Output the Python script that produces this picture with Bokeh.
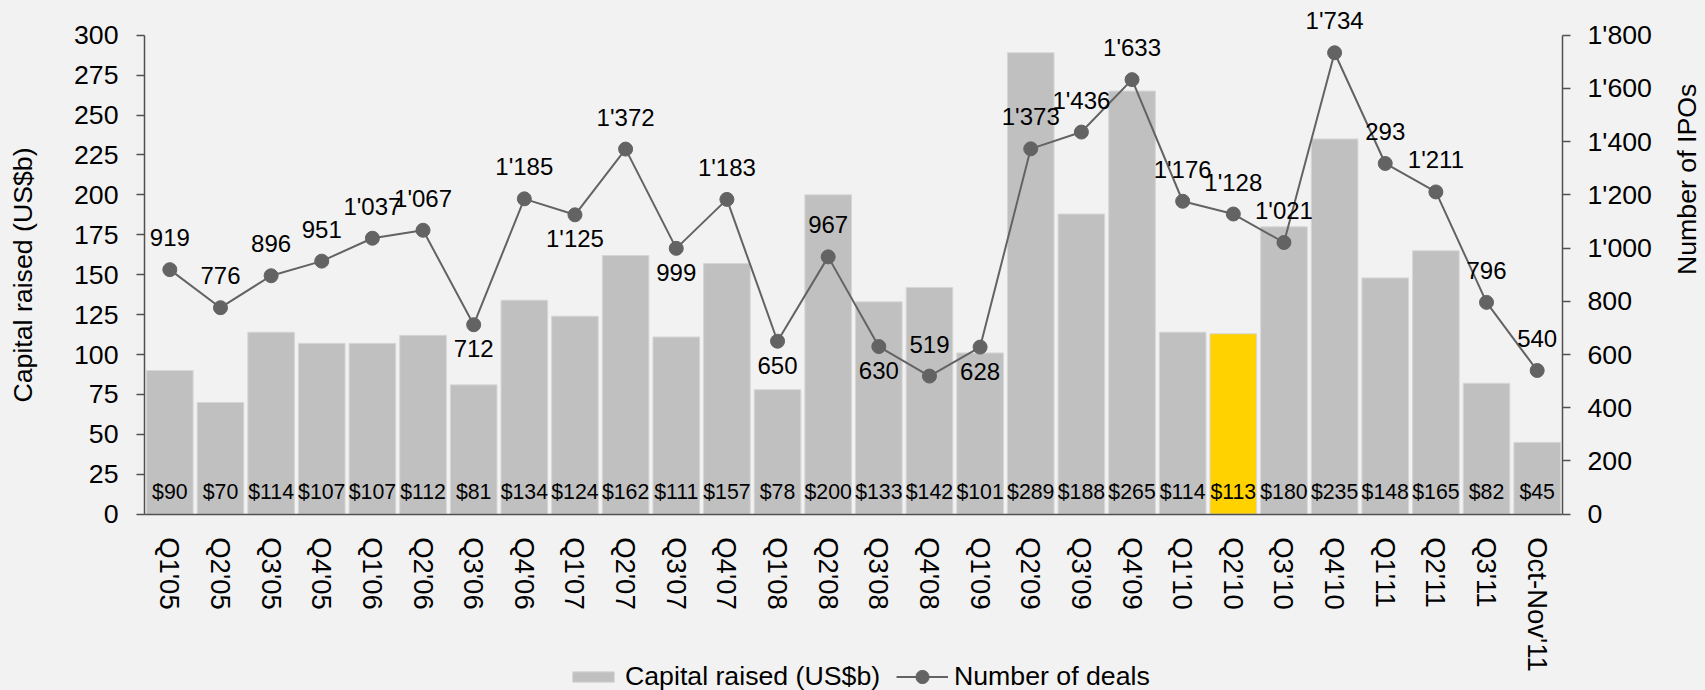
import math
from bokeh.plotting import figure
from bokeh.models import (ColumnDataSource, Range1d, LinearAxis, FixedTicker, LabelSet,
                          Legend, LegendItem)
from bokeh.core.properties import value
from bokeh.embed import file_html
from bokeh.resources import INLINE

# ---------------- data ----------------
quarters = ["Q1'05", "Q2'05", "Q3'05", "Q4'05", "Q1'06", "Q2'06", "Q3'06", "Q4'06",
            "Q1'07", "Q2'07", "Q3'07", "Q4'07", "Q1'08", "Q2'08", "Q3'08", "Q4'08",
            "Q1'09", "Q2'09", "Q3'09", "Q4'09", "Q1'10", "Q2'10", "Q3'10", "Q4'10",
            "Q1'11", "Q2'11", "Q3'11", "Oct-Nov'11"]
capital_raised = [90, 70, 114, 107, 107, 112, 81, 134, 124, 162, 111, 157, 78, 200,
                  133, 142, 101, 289, 188, 265, 114, 113, 180, 235, 148, 165, 82, 45]
number_of_deals = [919, 776, 896, 951, 1037, 1067, 712, 1185, 1125, 1372, 999, 1183, 650, 967,
                   630, 519, 628, 1373, 1436, 1633, 1176, 1128, 1021, 1734, 1318, 1211, 796, 540]
deal_labels = ["919", "776", "896", "951", "1'037", "1'067", "712", "1'185", "1'125", "1'372",
               "999", "1'183", "650", "967", "630", "519", "628", "1'373", "1'436", "1'633",
               "1'176", "1'128", "1'021", "1'734", "293", "1'211", "796", "540"]
labels_below = ["Q3'06", "Q1'07", "Q3'07", "Q1'08", "Q3'08", "Q1'09"]
highlight = "Q2'10"
left_ticks = [0, 25, 50, 75, 100, 125, 150, 175, 200, 225, 250, 275, 300]
right_ticks = [0, 200, 400, 600, 800, 1000, 1200, 1400, 1600, 1800]
right_tick_labels = ["0", "200", "400", "600", "800", "1'000", "1'200", "1'400", "1'600", "1'800"]

# ---------------- styles / layout ----------------
BG = "#f2f2f2"
BAR = "#c0c0c0"
GOLD = "#ffd200"
LINE = "#636363"
FONT = "Liberation Sans"
AX = "#505050"
W, H = 1705, 690
PITCH = 50.64            # px per category
PX_LEFT = 479 / 300      # px per US$b
FRAME_L, FRAME_R = 144, 1562   # plotting area inside the canvas (px)
FRAME_T, FRAME_B = 34.7, 513.7

n = len(quarters)
xpos = list(range(n))

src = ColumnDataSource(dict(
    x=xpos,
    cap=capital_raised,
    cap_txt=["$%d" % v for v in capital_raised],
    color=[GOLD if q == highlight else BAR for q in quarters],
    deals=number_of_deals,
))
above_idx = [i for i, q in enumerate(quarters) if q not in labels_below]
below_idx = [i for i, q in enumerate(quarters) if q in labels_below]
src_above = ColumnDataSource(dict(x=[xpos[i] for i in above_idx],
                                  d=[number_of_deals[i] for i in above_idx],
                                  t=[deal_labels[i] for i in above_idx]))
src_below = ColumnDataSource(dict(x=[xpos[i] for i in below_idx],
                                  d=[number_of_deals[i] for i in below_idx],
                                  t=[deal_labels[i] for i in below_idx]))

x0 = -0.5 - FRAME_L / PITCH
x1 = n - 0.5 + (W - FRAME_R) / PITCH
y_lo = -(H - FRAME_B) / PX_LEFT
y_hi = 300 + FRAME_T / PX_LEFT
r_scale = 1800 / 300

p = figure(width=W, height=H, x_range=Range1d(x0, x1), y_range=Range1d(y_lo, y_hi),
           output_backend="svg", toolbar_location=None,
           min_border_left=0, min_border_right=0, min_border_top=0, min_border_bottom=0)
p.extra_y_ranges = {"deals": Range1d(y_lo * r_scale, y_hi * r_scale)}
p.background_fill_color = BG
p.border_fill_color = BG
p.outline_line_color = None
p.grid.visible = False

bars = p.vbar(x="x", top="cap", bottom=0, width=0.92, source=src, fill_color="color",
              line_color="#d6d6d6", line_width=1)
ln = p.line(x="x", y="deals", source=src, y_range_name="deals", line_color=LINE, line_width=2)
pts = p.scatter(x="x", y="deals", source=src, y_range_name="deals", size=14,
                fill_color=LINE, line_color=LINE)

# bar value labels
p.add_layout(LabelSet(x="x", y=0, text="cap_txt", source=src, y_offset=22,
                      text_align="center", text_baseline="middle",
                      text_font=value(FONT), text_font_size=value("21.3px"),
                      text_color="black"))
# deal labels
p.add_layout(LabelSet(x="x", y="d", text="t", source=src_above, y_range_name="deals",
                      y_offset=32, text_align="center", text_baseline="middle",
                      text_font=value(FONT), text_font_size=value("24px"), text_color="black"))
p.add_layout(LabelSet(x="x", y="d", text="t", source=src_below, y_range_name="deals",
                      y_offset=-24, text_align="center", text_baseline="middle",
                      text_font=value(FONT), text_font_size=value("24px"), text_color="black"))

def style_axis(ax):
    ax.axis_line_color = AX
    ax.axis_line_width = 1.5
    ax.major_tick_line_color = AX
    ax.major_tick_line_width = 1.5
    ax.minor_tick_line_color = None
    ax.major_label_text_font = FONT
    ax.major_label_text_font_size = "26.7px"
    ax.major_label_text_color = "black"
    ax.axis_label_text_font = FONT
    ax.axis_label_text_font_size = "26.7px"
    ax.axis_label_text_font_style = "normal"
    ax.axis_label_text_color = "black"

# left axis (fixed at the left edge of the categories)
ly = p.yaxis[0]
ly.ticker = FixedTicker(ticks=left_ticks)
ly.bounds = (left_ticks[0], left_ticks[-1])
ly.fixed_location = -0.5
ly.axis_label = "Capital raised (US$b)"
style_axis(ly)
ly.major_tick_out = 8
ly.major_tick_in = 0
ly.major_label_standoff = 18
ly.axis_label_standoff = 33

# right axis
ry = LinearAxis(y_range_name="deals", ticker=FixedTicker(ticks=right_ticks),
                major_label_overrides={t: s for t, s in zip(right_ticks, right_tick_labels)},
                axis_label="Number of IPOs", bounds=(right_ticks[0], right_ticks[-1]),
                fixed_location=n - 0.5)
style_axis(ry)
ry.major_tick_out = 8
ry.major_tick_in = 0
ry.major_label_standoff = 17
ry.axis_label_standoff = 32
try:
    ry.axis_label_orientation = math.pi / 2
except Exception:
    pass
p.add_layout(ry, "right")

# category axis at y = 0
xa = p.xaxis[0]
xa.ticker = FixedTicker(ticks=xpos)
xa.major_label_overrides = {i: q for i, q in zip(xpos, quarters)}
xa.bounds = (-0.5, n - 0.5)
xa.fixed_location = 0
style_axis(xa)
xa.major_label_text_font_size = "27.5px"
xa.major_tick_line_color = None
xa.major_tick_out = 0
xa.major_tick_in = 0
xa.major_label_orientation = "vertical"
xa.major_label_standoff = 23

common = dict(orientation="horizontal", padding=0, margin=0, spacing=0, glyph_width=52,
              label_standoff=6, label_text_font=FONT, label_text_font_size="26.7px",
              label_text_color="black", background_fill_alpha=0, border_line_color=None)
legend_bar = Legend(items=[LegendItem(label="Capital raised (US$b)", renderers=[bars], index=0)],
                    location=(567, -2), glyph_height=13, **common)
legend_line = Legend(items=[LegendItem(label="Number of deals", renderers=[ln, pts], index=0)],
                     location=(896, -3), glyph_height=33, **common)
p.add_layout(legend_bar, "center")
p.add_layout(legend_line, "center")

html = file_html(p, INLINE)
html = html.replace("<head>", "<head><style>html,body{background:%s;}</style>" % BG, 1)
open("out.html", "w").write(html)
